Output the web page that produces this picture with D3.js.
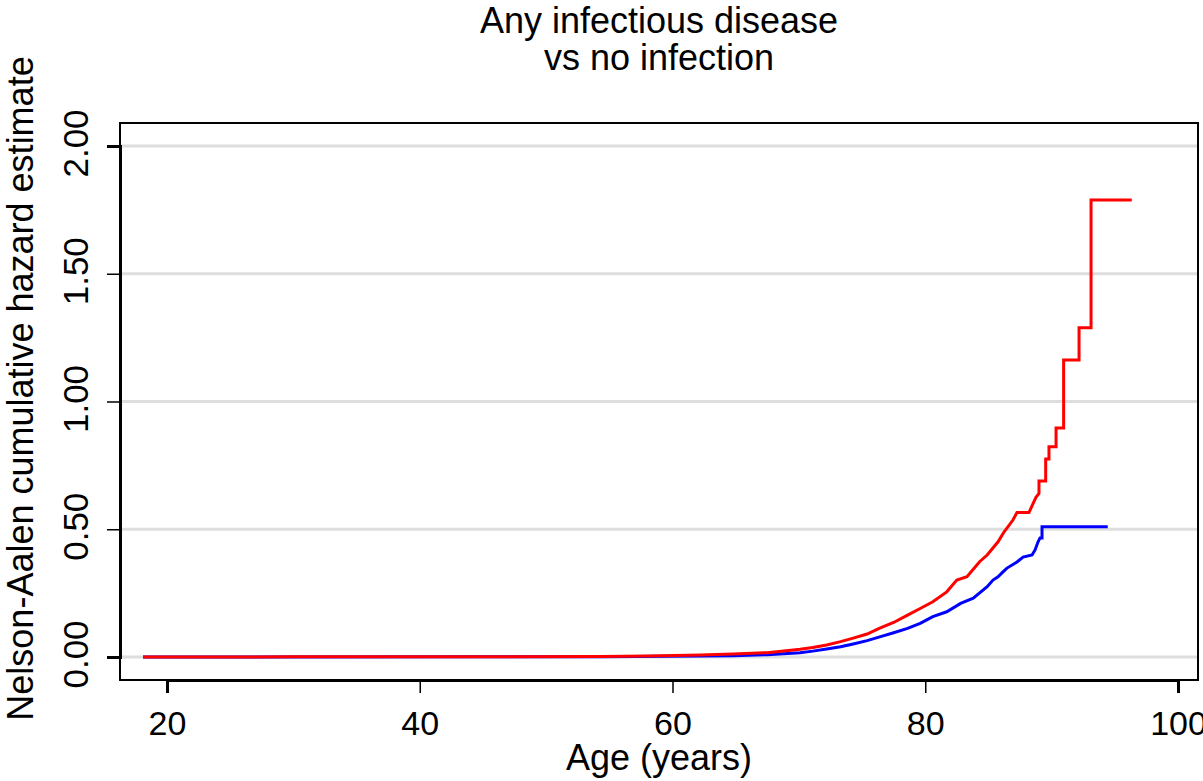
<!DOCTYPE html>
<html>
<head>
<meta charset="utf-8">
<script src="https://cdn.jsdelivr.net/npm/d3@7"></script>
<style>
  body { margin: 0; background: #fff; }
  svg { font-family: "Liberation Sans", Arial, sans-serif; }
</style>
</head>
<body>
<svg id="chart" width="1203" height="781"></svg>
<script>
(function() {
  var width = 1203,
    height = 781;

  // tick values
  var xTicks = [20, 40, 60, 80, 100];
  var yTicks = [0, 0.5, 1, 1.5, 2];

  // [age, cumulative hazard]
  var infection = [
    [18.1, 0], [30, 0.0005], [45, 0.001], [54.3, 0.002], [58, 0.004],
    [62.2, 0.008], [64.8, 0.012], [67.5, 0.017], [70.1, 0.030], [71.1, 0.037],
    [72.2, 0.047], [73.3, 0.060], [74.3, 0.074], [75.4, 0.090], [76.4, 0.113],
    [77.5, 0.135], [78.6, 0.164], [79.6, 0.190], [80.6, 0.216], [81.7, 0.255],
    [82.5, 0.301], [83.3, 0.314], [84.3, 0.373], [84.9, 0.399], [85.76, 0.451],
    [86.23, 0.489], [86.94, 0.536], [87.26, 0.566], [88.21, 0.566], [88.53, 0.60],
    [88.76, 0.625], [89.0, 0.64], [89.0, 0.689], [89.53, 0.689], [89.53, 0.775],
    [89.79, 0.775], [89.79, 0.823], [90.35, 0.823], [90.35, 0.896], [90.95, 0.896],
    [90.95, 1.162], [92.17, 1.162], [92.17, 1.289], [93.12, 1.289], [93.12, 1.789],
    [96.34, 1.789]
  ];
  var noInfection = [
    [18.1, 0], [45, 0.0005], [54.3, 0.001], [64.8, 0.005], [67.5, 0.009],
    [70.1, 0.017], [71.1, 0.023], [72.2, 0.031], [73.3, 0.040], [74.3, 0.051],
    [75.4, 0.064], [76.4, 0.079], [77.5, 0.095], [78.6, 0.112], [79.6, 0.132],
    [80.6, 0.158], [81.7, 0.177], [82.8, 0.210], [83.8, 0.230], [84.9, 0.275],
    [85.36, 0.301], [85.76, 0.314], [86.15, 0.333], [86.47, 0.348], [87.26, 0.372],
    [87.74, 0.391], [88.45, 0.399], [88.69, 0.419], [88.92, 0.450], [89.08, 0.466],
    [89.24, 0.466], [89.24, 0.510], [94.44, 0.510]
  ];

  // plot region
  var left = 120, right = 1198, top = 123, bottom = 680;

  var x = d3.scaleLinear().domain([20, 100]).range([167, 1178]);
  var y = d3.scaleLinear().domain([0, 2]).range([657, 146]);

  var svg = d3.select("#chart");

  // gridlines
  svg.append("g")
    .selectAll("line")
    .data(yTicks)
    .enter()
    .append("line")
    .attr("x1", left)
    .attr("x2", right)
    .attr("y1", d => y(d))
    .attr("y2", d => y(d))
    .attr("stroke", "#dedede")
    .attr("stroke-width", 2.8);

  // curves
  var line = d3.line()
    .x(d => x(d[0]))
    .y(d => y(d[1]));

  svg.append("path")
    .datum(noInfection)
    .attr("d", line)
    .attr("fill", "none")
    .attr("stroke", "#0000ff")
    .attr("stroke-width", 3);

  svg.append("path")
    .datum(infection)
    .attr("d", line)
    .attr("fill", "none")
    .attr("stroke", "#ff0000")
    .attr("stroke-width", 3);

  // plot region outline
  svg.append("rect")
    .attr("x", left)
    .attr("y", top)
    .attr("width", right - left)
    .attr("height", bottom - top)
    .attr("fill", "none")
    .attr("stroke", "#000")
    .attr("stroke-width", 2);

  // y axis
  var yAxis = svg.append("g")
    .attr("transform", `translate(${left},0)`)
    .call(d3.axisLeft(y).tickValues(yTicks).tickSize(13).tickFormat(d3.format(".2f")));
  yAxis.select(".domain").attr("stroke-width", 3);
  yAxis.selectAll(".tick line").attr("stroke-width", 1.5);
  yAxis.selectAll(".tick text")
    .attr("x", 0)
    .attr("dy", 0)
    .attr("transform", "translate(-32,-3) rotate(-90)")
    .attr("text-anchor", "middle")
    .attr("font-size", 35)
    .attr("font-family", "Liberation Sans, Arial, sans-serif")
    .attr("fill", "#000");

  // x axis
  var xAxis = svg.append("g")
    .attr("transform", `translate(0,${bottom})`)
    .call(d3.axisBottom(x).tickValues(xTicks).tickSize(13));
  xAxis.select(".domain").attr("stroke-width", 3);
  xAxis.selectAll(".tick line").attr("stroke-width", 1.5);
  xAxis.selectAll(".tick text")
    .attr("y", 55)
    .attr("dy", 0)
    .attr("font-size", 34)
    .attr("font-family", "Liberation Sans, Arial, sans-serif")
    .attr("fill", "#000");

  // titles
  var cx = (left + right) / 2;
  svg.append("text")
    .attr("x", cx)
    .attr("y", 33)
    .attr("text-anchor", "middle")
    .attr("font-size", 36)
    .text("Any infectious disease");
  svg.append("text")
    .attr("x", cx)
    .attr("y", 70)
    .attr("text-anchor", "middle")
    .attr("font-size", 36)
    .text("vs no infection");

  svg.append("text")
    .attr("x", cx)
    .attr("y", 770)
    .attr("text-anchor", "middle")
    .attr("font-size", 36)
    .text("Age (years)");

  svg.append("text")
    .attr("transform", `translate(33,${(top + bottom) / 2 - 13}) rotate(-90)`)
    .attr("text-anchor", "middle")
    .attr("font-size", 36)
    .text("Nelson-Aalen cumulative hazard estimate");
})();
</script>
</body>
</html>
